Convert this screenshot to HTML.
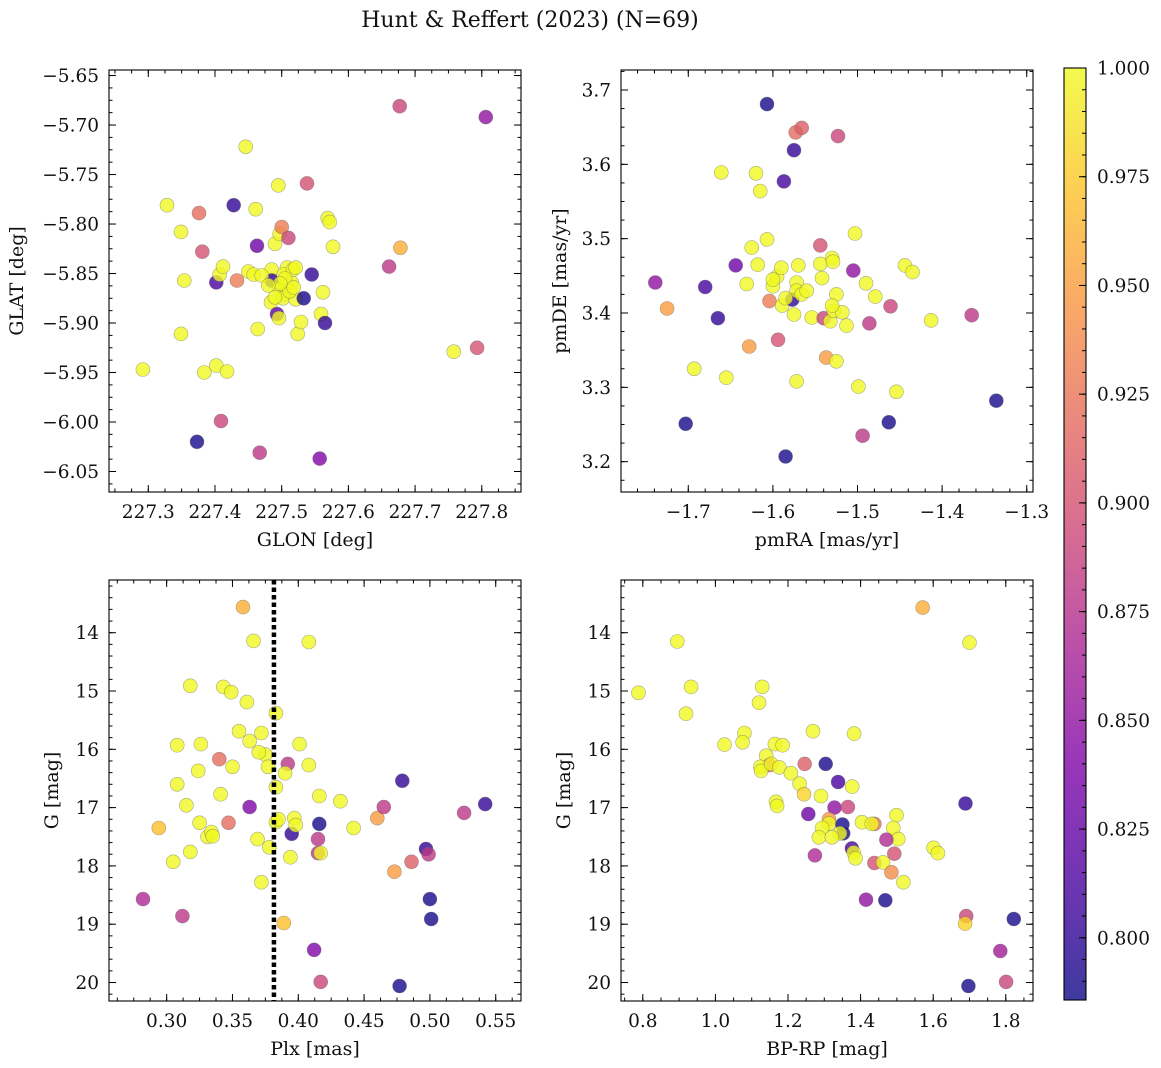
<!DOCTYPE html>
<html><head><meta charset="utf-8">
<style>
html,body{margin:0;padding:0;background:#fff;}
svg{display:block;font-family:"DejaVu Serif","Liberation Serif",serif;}
</style></head>
<body>
<svg id="fig" width="1161" height="1068" viewBox="0 0 1161 1068" xmlns="http://www.w3.org/2000/svg">
<text x="530" y="27" font-size="22" text-anchor="middle" fill="#111">Hunt &amp; Reffert (2023) (N=69)</text>
</svg>
<script>
// ---- Panel 1: GLON / GLAT ----
const p1Glon=[227.292,227.328,227.349,227.354,227.349,227.376,227.381,227.373,227.384,227.402,227.418,227.402,227.407,227.412,227.409,227.428,227.433,227.446,227.450,227.458,227.461,227.463,227.464,227.467,227.495,227.485,227.490,227.497,227.500,227.485,227.484,227.497,227.493,227.496,227.510,227.508,227.503,227.506,227.505,227.502,227.515,227.517,227.521,227.521,227.524,227.529,227.533,227.538,227.545,227.559,227.562,227.565,227.557,227.569,227.572,227.577,227.661,227.677,227.678,227.758,227.793,227.806,227.505,227.512,227.498,227.490,227.518,227.470,227.480];
const p1Glat=[-5.947,-5.781,-5.808,-5.857,-5.911,-5.789,-5.828,-6.020,-5.950,-5.943,-5.949,-5.859,-5.851,-5.843,-5.999,-5.781,-5.857,-5.722,-5.848,-5.851,-5.785,-5.822,-5.906,-6.031,-5.761,-5.846,-5.820,-5.810,-5.803,-5.857,-5.879,-5.866,-5.891,-5.895,-5.814,-5.844,-5.851,-5.863,-5.871,-5.875,-5.859,-5.846,-5.876,-5.844,-5.911,-5.899,-5.875,-5.759,-5.851,-5.891,-5.869,-5.900,-6.037,-5.794,-5.798,-5.823,-5.843,-5.681,-5.824,-5.929,-5.925,-5.692,-5.855,-5.868,-5.860,-5.874,-5.864,-5.852,-5.862];
const p1Prob=[1,1,1,1,1,0.92,0.9,0.79,1,1,1,0.81,1,1,0.89,0.8,0.93,1,1,1,1,0.83,1,0.88,1,1,1,1,0.93,0.8,1,1,0.82,1,0.89,1,1,1,1,1,1,1,1,1,1,1,0.79,0.9,0.8,1,1,0.8,0.84,1,1,1,0.88,0.89,0.96,1,0.9,0.85,1,1,1,1,1,1,1];
// ---- Panel 2: pmRA / pmDE ----
const p2PmRA=[-1.739,-1.725,-1.703,-1.693,-1.680,-1.665,-1.661,-1.655,-1.644,-1.631,-1.628,-1.625,-1.620,-1.615,-1.618,-1.607,-1.607,-1.604,-1.600,-1.595,-1.594,-1.590,-1.589,-1.587,-1.585,-1.577,-1.575,-1.573,-1.570,-1.572,-1.572,-1.575,-1.572,-1.566,-1.566,-1.554,-1.544,-1.544,-1.542,-1.540,-1.537,-1.532,-1.530,-1.529,-1.528,-1.525,-1.525,-1.523,-1.518,-1.513,-1.505,-1.503,-1.499,-1.494,-1.490,-1.486,-1.479,-1.463,-1.461,-1.454,-1.444,-1.435,-1.413,-1.365,-1.336,-1.560,-1.585,-1.600,-1.530];
const p2PmDE=[3.441,3.406,3.251,3.325,3.435,3.393,3.589,3.313,3.464,3.439,3.355,3.488,3.588,3.564,3.465,3.499,3.681,3.416,3.436,3.449,3.364,3.461,3.410,3.577,3.207,3.418,3.619,3.643,3.464,3.441,3.430,3.398,3.308,3.649,3.425,3.394,3.491,3.466,3.447,3.393,3.340,3.389,3.474,3.469,3.403,3.425,3.335,3.638,3.401,3.383,3.457,3.507,3.301,3.235,3.440,3.386,3.422,3.253,3.409,3.294,3.464,3.455,3.390,3.397,3.282,3.430,3.420,3.445,3.410];
const p2Prob=[0.85,0.95,0.79,1,0.81,0.8,1,1,0.83,1,0.95,1,1,1,1,1,0.79,0.93,1,1,0.9,1,1,0.81,0.79,0.8,0.8,0.92,1,1,1,1,1,0.91,1,1,0.9,1,1,0.89,0.95,1,1,1,1,1,1,0.89,1,1,0.85,1,1,0.88,1,0.88,1,0.79,0.89,1,1,1,1,0.88,0.79,1,1,1,1];
// ---- Panel 3: Plx / G ----
const p3Plx=[0.282,0.294,0.305,0.308,0.308,0.312,0.315,0.318,0.318,0.324,0.325,0.326,0.331,0.334,0.335,0.340,0.341,0.343,0.347,0.349,0.350,0.355,0.358,0.361,0.363,0.363,0.366,0.369,0.372,0.372,0.375,0.377,0.378,0.383,0.383,0.383,0.389,0.392,0.390,0.395,0.394,0.397,0.398,0.401,0.408,0.408,0.412,0.415,0.415,0.416,0.416,0.417,0.417,0.432,0.442,0.460,0.465,0.473,0.477,0.479,0.486,0.497,0.499,0.500,0.501,0.526,0.542,0.370,0.385];
const p3G=[18.57,17.35,17.93,15.93,16.60,18.86,16.96,14.91,17.76,16.37,17.26,15.91,17.50,17.42,17.49,16.17,16.77,14.93,17.26,15.02,16.30,15.69,13.56,15.19,16.99,15.86,14.14,17.54,15.72,18.28,16.09,16.30,17.68,15.38,16.65,17.25,18.98,16.25,16.41,17.45,17.85,17.18,17.30,15.91,14.16,16.27,19.44,17.78,17.54,17.28,16.80,19.99,17.78,16.89,17.35,17.18,16.99,18.10,20.06,16.54,17.93,17.71,17.80,18.57,18.91,17.09,16.94,16.05,17.20];
const p3Prob=[0.87,0.97,1,1,1,0.88,1,1,1,1,1,1,1,1,1,0.92,1,1,0.92,1,1,1,0.96,1,0.84,1,1,1,1,1,1,1,1,1,1,1,0.97,0.88,1,0.8,1,1,1,1,1,1,0.84,0.88,0.88,0.79,1,0.89,1,1,1,0.95,0.88,0.95,0.79,0.8,0.91,0.8,0.88,0.79,0.79,0.88,0.8,1,1];
// ---- Panel 4: BP-RP / G ----
const p4Color=[0.788,0.895,0.933,0.919,1.025,1.080,1.075,1.129,1.120,1.164,1.185,1.140,1.149,1.124,1.126,1.154,1.176,1.208,1.232,1.244,1.167,1.170,1.246,1.269,1.304,1.338,1.377,1.382,1.291,1.256,1.328,1.365,1.313,1.313,1.294,1.350,1.352,1.343,1.285,1.321,1.376,1.381,1.386,1.274,1.404,1.438,1.431,1.499,1.490,1.504,1.471,1.493,1.438,1.462,1.485,1.518,1.415,1.468,1.601,1.613,1.571,1.700,1.689,1.691,1.688,1.822,1.785,1.801,1.697];
const p4G=[15.03,14.15,14.93,15.39,15.92,15.72,15.88,14.93,15.20,15.91,15.93,16.11,16.27,16.30,16.37,16.25,16.31,16.41,16.59,16.77,16.90,16.97,16.25,15.69,16.25,16.56,16.64,15.73,16.80,17.11,17.00,16.99,17.20,17.27,17.35,17.29,17.44,17.44,17.51,17.51,17.70,17.77,17.87,17.82,17.25,17.28,17.28,17.13,17.35,17.54,17.55,17.79,17.95,17.94,18.11,18.28,18.58,18.59,17.69,17.78,13.57,14.17,16.93,18.86,18.99,18.91,19.46,19.99,20.06];
const p4Prob=[1,1,1,1,1,1,1,1,1,1,1,1,0.92,1,1,1,1,1,1,0.98,1,1,0.91,1,0.79,0.81,1,1,1,0.83,0.85,0.89,0.95,1,1,0.79,0.79,1,1,1,0.81,1,1,0.87,1,0.92,1,1,1,1,0.87,0.9,0.9,1,0.94,1,0.85,0.79,1,1,0.96,1,0.8,0.89,0.98,0.79,0.86,0.89,0.79];
// ---- colorbar ----
const cbTicks=[0.800,0.825,0.850,0.875,0.900,0.925,0.950,0.975,1.000];
const cbMin=0.7857, cbMax=1.0;
const plxLine=0.3815;

const NS='http://www.w3.org/2000/svg';
const svg=document.getElementById('fig');
const TICK_FS=18.5, LABEL_FS=19;
function el(tag,attrs,parent){const e=document.createElementNS(NS,tag);for(const k in attrs)e.setAttribute(k,attrs[k]);(parent||svg).appendChild(e);return e;}
const stops=[[0,[13,8,135]],[0.125,[76,2,161]],[0.25,[126,3,168]],[0.375,[169,35,149]],[0.5,[204,71,120]],[0.625,[229,107,93]],[0.75,[248,149,64]],[0.875,[253,197,39]],[1,[240,249,33]]];
function plasma(t){t=Math.max(0,Math.min(1,t));for(let i=1;i<stops.length;i++){if(t<=stops[i][0]){const a=stops[i-1],b=stops[i];const f=(t-a[0])/(b[0]-a[0]);const c=a[1].map((v,j)=>Math.round(v+(b[1][j]-v)*f));return 'rgb('+c.join(',')+')';}}return 'rgb(240,249,33)';}
function cnorm(v){return (v-cbMin)/(cbMax-cbMin);}
function lin(d0,d1,r0,r1){return v=>r0+(v-d0)/(d1-d0)*(r1-r0);}

function panel(o){
  const g=el('g',{});
  
  
  const sx=lin(o.xd[0],o.xd[1],o.L,o.R), sy=lin(o.yd[0],o.yd[1],o.T,o.B);
  const pts=el('g',{},g);
  
  
  for(let i=0;i<o.xs.length;i++){
    const cx=sx(o.xs[i]), cy=sy(o.ys[i]);
    if(cx<o.L-8||cx>o.R+8||cy<o.T-8||cy>o.B+8)continue;
    const c=el('circle',{cx:cx.toFixed(1),cy:cy.toFixed(1),r:7,fill:plasma(cnorm(o.cs[i])),'fill-opacity':0.8,stroke:'#666','stroke-opacity':0.55,'stroke-width':0.6},pts);
    
    
  }
  if(o.extra)o.extra(g,sx,sy);
  const fr=el('rect',{x:o.L,y:o.T,width:o.R-o.L,height:o.B-o.T,fill:'none',stroke:'#000','stroke-width':1.1},g);
  
  
  const tg=el('g',{stroke:'#000','stroke-width':1},g);
  const eps=1e-9;
  function range(lo,hi,step){const a=[];let s=Math.ceil(Math.min(lo,hi)/step-eps);for(let v=s*step;v<=Math.max(lo,hi)+eps;v=(++s)*step)a.push(+v.toFixed(6));return a;}
  range(o.xd[0],o.xd[1],o.xminor).forEach(v=>{const x=sx(v);el('line',{x1:x,x2:x,y1:o.B,y2:o.B-3.5},tg);el('line',{x1:x,x2:x,y1:o.T,y2:o.T+3.5},tg);});
  range(o.yd[0],o.yd[1],o.yminor).forEach(v=>{const y=sy(v);el('line',{x1:o.L,x2:o.L+3.5,y1:y,y2:y},tg);el('line',{x1:o.R,x2:o.R-3.5,y1:y,y2:y},tg);});
  o.xticks.forEach(v=>{const x=sx(v);el('line',{x1:x,x2:x,y1:o.B,y2:o.B-7},tg);el('line',{x1:x,x2:x,y1:o.T,y2:o.T+7},tg);
    const t=el('text',{x:x,y:o.B+26,'font-size':TICK_FS,'text-anchor':'middle',fill:'#111'},g);t.textContent=o.xfmt(v);
    
    });
  o.yticks.forEach(v=>{const y=sy(v);el('line',{x1:o.L,x2:o.L+7,y1:y,y2:y},tg);el('line',{x1:o.R,x2:o.R-7,y1:y,y2:y},tg);
    const t=el('text',{x:o.L-10,y:y+6.5,'font-size':TICK_FS,'text-anchor':'end',fill:'#111'},g);t.textContent=o.yfmt(v);
    
    });
  const xl=el('text',{x:(o.L+o.R)/2,y:o.B+54,'font-size':LABEL_FS,'text-anchor':'middle',fill:'#111'},g);xl.textContent=o.xlabel;
  
  
  const yx=o.ylx, yc=(o.T+o.B)/2;
  const yl=el('text',{x:yx,y:yc,'font-size':LABEL_FS,'text-anchor':'middle',fill:'#111',transform:'rotate(-90 '+yx+' '+yc+')'},g);yl.textContent=o.ylabel;
  
  
}
const mfmt=(d)=>v=>(v<0?'\u2212':'')+Math.abs(v).toFixed(d);

panel({name:'glon-glat-panel',L:109,R:521,T:70,B:492,xd:[227.2411,227.8588],yd:[-5.6444,-6.0707],xs:p1Glon,ys:p1Glat,cs:p1Prob,
  xticks:[227.3,227.4,227.5,227.6,227.7,227.8],yticks:[-5.65,-5.7,-5.75,-5.8,-5.85,-5.9,-5.95,-6.0,-6.05],xminor:0.025,yminor:0.0125,
  xfmt:mfmt(1),yfmt:mfmt(2),xlabel:'GLON [deg]',ylabel:'GLAT [deg]',ylx:23});
panel({name:'pm-panel',L:621,R:1033,T:70,B:492,xd:[-1.7795,-1.2926],yd:[3.7269,3.1592],xs:p2PmRA,ys:p2PmDE,cs:p2Prob,
  xticks:[-1.7,-1.6,-1.5,-1.4,-1.3],yticks:[3.7,3.6,3.5,3.4,3.3,3.2],xminor:0.02,yminor:0.025,
  xfmt:mfmt(1),yfmt:mfmt(1),xlabel:'pmRA [mas/yr]',ylabel:'pmDE [mas/yr]',ylx:566});
panel({name:'plx-g-panel',L:109,R:521,T:580,B:1001,xd:[0.2562,0.5692],yd:[13.096,20.317],xs:p3Plx,ys:p3G,cs:p3Prob,
  xticks:[0.30,0.35,0.40,0.45,0.50,0.55],yticks:[14,15,16,17,18,19,20],xminor:0.0125,yminor:0.2,
  xfmt:mfmt(2),yfmt:v=>String(v),xlabel:'Plx [mas]',ylabel:'G [mag]',ylx:58,
  extra:(g,sx,sy)=>{const x=sx(plxLine);const l=el('line',{x1:x,x2:x,y1:580,y2:1001,stroke:'#000','stroke-width':4.5,'stroke-dasharray':'4.5 3'},g);
    
    }});
panel({name:'cmd-panel',L:621,R:1033,T:580,B:1001,xd:[0.7399,1.8750],yd:[13.096,20.317],xs:p4Color,ys:p4G,cs:p4Prob,
  xticks:[0.8,1.0,1.2,1.4,1.6,1.8],yticks:[14,15,16,17,18,19,20],xminor:0.05,yminor:0.2,
  xfmt:mfmt(1),yfmt:v=>String(v),xlabel:'BP-RP [mag]',ylabel:'G [mag]',ylx:570});

(function(){
  const L=1064,R=1086,T=68,B=1000;
  const cb=el('g',{});
  
  
  const defs=el('defs',{},cb);
  const lg=el('linearGradient',{id:'cbg',x1:0,y1:1,x2:0,y2:0},defs);
  for(let i=0;i<=20;i++){const t=i/20;el('stop',{offset:t,'stop-color':plasma(t),'stop-opacity':0.8},lg);}
  el('rect',{x:L,y:T,width:R-L,height:B-T,fill:'url(#cbg)',stroke:'#000','stroke-width':1.1},cb);
  const sy=lin(cbMin,cbMax,B,T);
  for(let k=Math.ceil(cbMin/0.005);k*0.005<=cbMax+1e-9;k++){const y=sy(k*0.005);el('line',{x1:R,x2:R-4,y1:y,y2:y,stroke:'#000'},cb);}
  cbTicks.forEach(v=>{const y=sy(v);el('line',{x1:R,x2:R-7,y1:y,y2:y,stroke:'#000'},cb);
    const t=el('text',{x:R+11,y:y+6.5,'font-size':TICK_FS,fill:'#111'},cb);t.textContent=v.toFixed(3);
    
    });
})();
</script>
</body></html>
